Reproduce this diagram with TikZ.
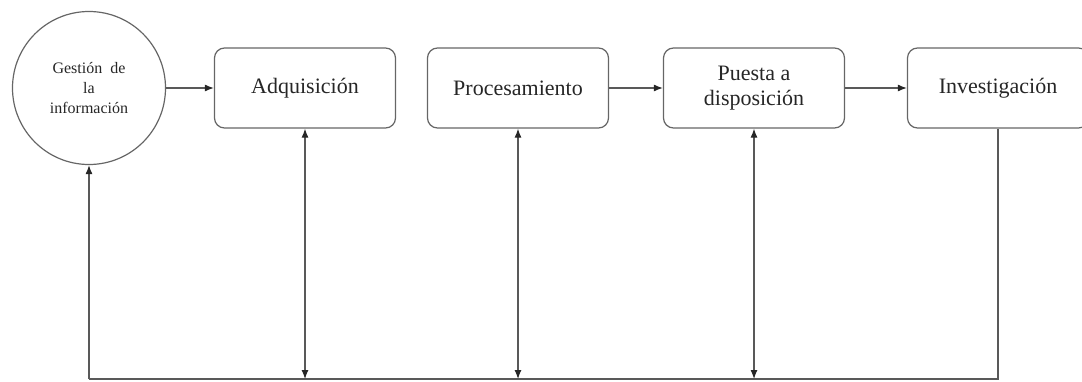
\documentclass[tikz,border=0pt]{standalone}
\usepackage{fontspec}
\setmainfont{Liberation Serif}
\usetikzlibrary{arrows.meta}

\tikzset{
  etapa/.style={draw=black!60, line width=1.2pt, rounded corners=10pt,
    minimum width=181pt, minimum height=80pt, align=center,
    font=\fontsize{22}{25}\selectfont, text=black!85},
  origen/.style={circle, draw=black!60, line width=1.2pt, minimum size=153pt,
    inner sep=0pt, align=center, font=\fontsize{16}{20}\selectfont, text=black!85},
  linea/.style={draw=black!65, line width=1.2pt},
  punta/.tip={Latex[length=9pt,width=7pt,black!85]},
  flujo/.style={linea, -punta},
  doble/.style={linea, punta-punta},
}

\begin{document}
\begin{tikzpicture}[x=1pt,y=-1pt]
    \useasboundingbox (0,0) rectangle (1082,381);

    % Nodes:
    \node [origen] (gestion) at (89,88) {Gestión\ \ de\\la\\información};
    \node [etapa] (adq) at (305,88) {Adquisición};
    \node [etapa] (proc) at (518,88) {Procesamiento};
    \node [etapa] (puesta) at (754,88) {Puesta a\\disposición};
    \node [etapa] (inv) at (998,88) {Investigación};

    % Points on the bottom line:
    \coordinate (b0) at (89,379);
    \coordinate (b1) at (305,379);
    \coordinate (b2) at (518,379);
    \coordinate (b3) at (754,379);
    \coordinate (b4) at (998,379);

    % Arrows between the steps:
    \draw [flujo] (gestion.east) -- (adq.west);
    \draw [flujo] (proc.east) -- (puesta.west);
    \draw [flujo] (puesta.east) -- (inv.west);

    % Return line:
    \draw [linea] (inv.south) -- (b4) -- (b0);
    \draw [flujo] (b0) -- (gestion.south);
    \draw [doble] (adq.south) -- (b1);
    \draw [doble] (proc.south) -- (b2);
    \draw [doble] (puesta.south) -- (b3);
\end{tikzpicture}
\end{document}
